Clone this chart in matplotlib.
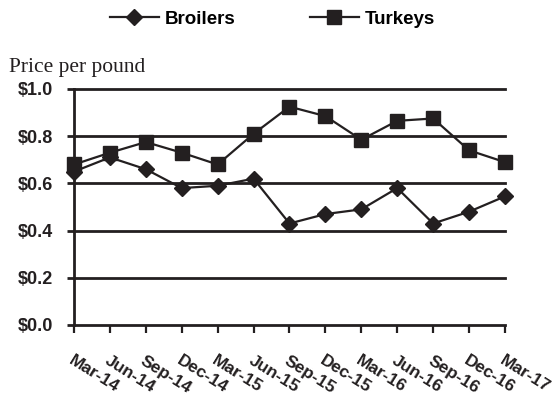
import matplotlib.pyplot as plt
import numpy as np

quarters = ['Mar-14', 'Jun-14', 'Sep-14', 'Dec-14', 'Mar-15', 'Jun-15', 'Sep-15',
            'Dec-15', 'Mar-16', 'Jun-16', 'Sep-16', 'Dec-16', 'Mar-17']
broilers = [0.65, 0.71, 0.66, 0.58, 0.59, 0.62, 0.43, 0.47, 0.49, 0.58, 0.43, 0.48, 0.545]
turkeys = [0.68, 0.73, 0.775, 0.73, 0.68, 0.81, 0.925, 0.885, 0.785, 0.865, 0.875, 0.74, 0.69]
y_ticks = [0.0, 0.2, 0.4, 0.6, 0.8, 1.0]
y_labels = ['$0.0', '$0.2', '$0.4', '$0.6', '$0.8', '$1.0']

ink = '#231f20'
plt.rcParams['font.family'] = ['Liberation Sans', 'DejaVu Sans']

fig = plt.figure(figsize=(5.58, 3.99), dpi=100)
ax = fig.add_axes([0.1326, 0.1855, 0.7724, 0.5915])

x = np.arange(len(quarters))
ax.plot(x, broilers, color=ink, lw=1.6, marker='D', ms=7.8, mfc=ink, mec=ink,
        label='Broilers', zorder=3, clip_on=False)
ax.plot(x, turkeys, color=ink, lw=1.6, marker='s', ms=10, mfc=ink, mec=ink,
        label='Turkeys', zorder=3, clip_on=False)

ax.set_xlim(0, len(quarters) - 1)
ax.set_ylim(0, 1.0)
ax.set_yticks(y_ticks)
ax.set_yticklabels(y_labels, fontsize=13, fontweight='bold')
ax.set_xticks(x)
ax.set_xticklabels([])
# rotated quarter labels hang down to the right of each tick
for xi, q in zip(x, quarters):
    ax.text(xi, -0.12, q, rotation=-32, rotation_mode='anchor', ha='left', va='top',
            fontsize=12.5, fontweight='bold', color=ink,
            transform=ax.get_xaxis_transform())

for v in y_ticks:
    ax.axhline(v, color=ink, lw=2, zorder=1, clip_on=False)

for side in ['top', 'right']:
    ax.spines[side].set_visible(False)
ax.spines['bottom'].set_visible(False)
ax.spines['left'].set_color(ink)
ax.spines['left'].set_linewidth(2)
ax.tick_params(axis='y', length=5, width=2, color=ink, labelcolor=ink, pad=10)
ax.tick_params(axis='x', length=6, width=1.6, color=ink)

fig.text(0.016, 0.83, 'Price per pound', family=['Liberation Serif', 'DejaVu Serif'],
         fontsize=15.5, color=ink, va='center')

fig.legend(loc='center', bbox_to_anchor=(0.488, 0.952), ncol=2, frameon=False,
           handlelength=2.6, columnspacing=4.0, handletextpad=0.3,
           prop={'weight': 'bold', 'size': 13.5})

fig.savefig('out.png', dpi=100)
